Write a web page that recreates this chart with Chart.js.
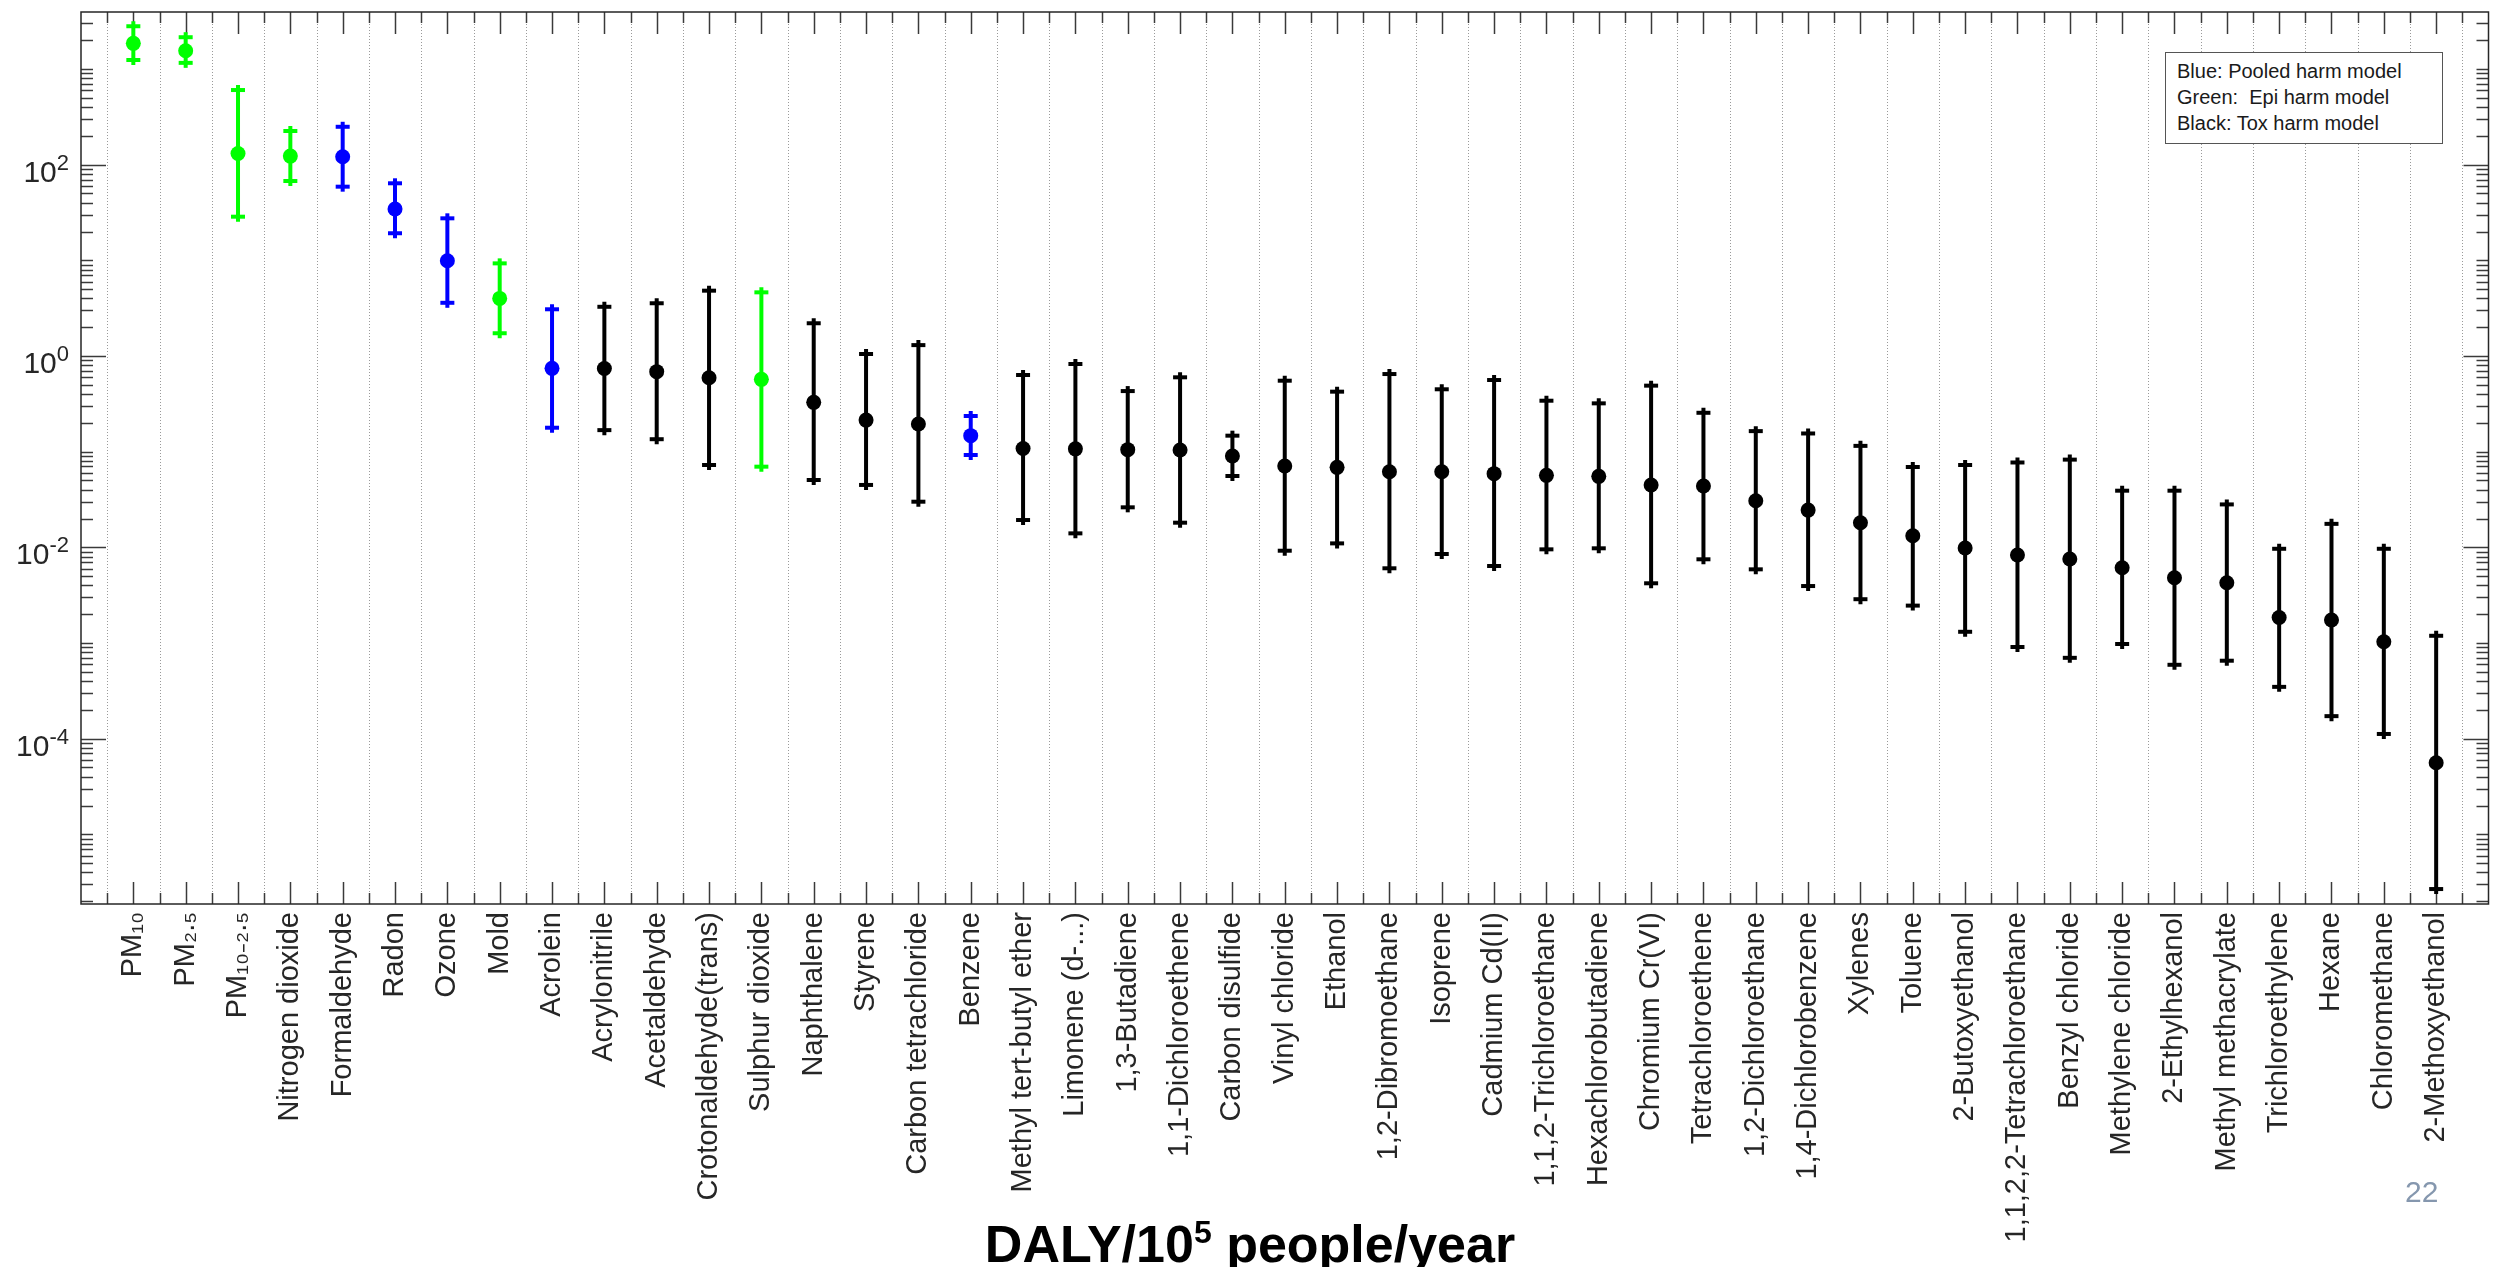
<!DOCTYPE html>
<html>
<head>
<meta charset="utf-8">
<script src="https://cdn.jsdelivr.net/npm/chart.js@4.4.1/dist/chart.umd.min.js"></script>
<style>
  html, body { margin: 0; padding: 0; background: #fff; }
  #wrap { position: relative; width: 2496px; height: 1267px; overflow: hidden; background: #fff; }
  #chart { position: absolute; left: 0; top: 0; }
  #legendBox {
    position: absolute; left: 2165px; top: 52px; width: 278px; height: 92px;
    box-sizing: border-box; border: 1.5px solid #555; background: #fff;
    font-family: 'Liberation Sans', Arial, sans-serif; font-size: 20px; line-height: 26px;
    color: #1a1a1a; padding: 5px 0 0 11px; white-space: pre;
  }
  #xTitle {
    position: absolute; left: 950px; top: 1214px; width: 600px; text-align: center;
    font-family: 'Liberation Sans', Arial, sans-serif; font-weight: bold; font-size: 52px; line-height: 60px;
    color: #000; white-space: nowrap;
  }
  #xTitle .sup { font-size: 32px; position: relative; top: -19px; }
  #pageNum {
    position: absolute; left: 2405px; top: 1177px;
    font-family: 'Liberation Sans', Arial, sans-serif; font-size: 30px; line-height: 30px; color: #8597ae;
  }
</style>
</head>
<body>
<div id="wrap">
  <canvas id="chart" width="2496" height="1267"></canvas>
  <div id="legendBox">Blue: Pooled harm model
Green:  Epi harm model
Black: Tox harm model</div>
  <div id="xTitle">DALY/10<span class="sup">5</span> people/year</div>
  <div id="pageNum">22</div>
</div>
<script>
// ---------------- DATA ----------------
const categories = [
  'PM₁₀', 'PM₂.₅', 'PM₁₀₋₂.₅', 'Nitrogen dioxide', 'Formaldehyde', 'Radon', 'Ozone', 'Mold',
  'Acrolein', 'Acrylonitrile', 'Acetaldehyde', 'Crotonaldehyde(trans)', 'Sulphur dioxide',
  'Naphthalene', 'Styrene', 'Carbon tetrachloride', 'Benzene', 'Methyl tert-butyl ether',
  'Limonene (d-...)', '1,3-Butadiene', '1,1-Dichloroethene', 'Carbon disulfide', 'Vinyl chloride',
  'Ethanol', '1,2-Dibromoethane', 'Isoprene', 'Cadmium Cd(II)', '1,1,2-Trichloroethane',
  'Hexachlorobutadiene', 'Chromium Cr(VI)', 'Tetrachloroethene', '1,2-Dichloroethane',
  '1,4-Dichlorobenzene', 'Xylenes', 'Toluene', '2-Butoxyethanol', '1,1,2,2-Tetrachloroethane',
  'Benzyl chloride', 'Methylene chloride', '2-Ethylhexanol', 'Methyl methacrylate',
  'Trichloroethylene', 'Hexane', 'Chloromethane', '2-Methoxyethanol'
];

const centralValues = [
  1855, 1553, 131, 123, 121, 34.4, 9.9, 4.0,
  0.743, 0.74, 0.686, 0.593, 0.570,
  0.328, 0.214, 0.195, 0.147, 0.108,
  0.107, 0.105, 0.104, 0.0901, 0.0708,
  0.0686, 0.0617, 0.0617, 0.0589, 0.0566,
  0.0552, 0.0449, 0.0438, 0.0307,
  0.0245, 0.0181, 0.0132, 0.00986, 0.00832,
  0.00755, 0.00611, 0.00481, 0.00426,
  0.00185, 0.00174, 0.00103, 0.000056
];

const lowerValues = [
  1242, 1160, 28.6, 67.5, 58.9, 19.2, 3.6, 1.73,
  0.178, 0.168, 0.135, 0.0726, 0.0697,
  0.0506, 0.0449, 0.030, 0.0923, 0.0193,
  0.0140, 0.0262, 0.0181, 0.0557, 0.00922,
  0.0110, 0.00604, 0.00852, 0.00638, 0.00953,
  0.00977, 0.00421, 0.0075, 0.00589,
  0.00394, 0.00287, 0.00246, 0.00131, 0.000908,
  0.000700, 0.000977, 0.000592, 0.000653,
  0.000348, 0.000172, 0.000112, 0.00000268
];

const upperValues = [
  2800, 2150, 603, 225, 249, 63.9, 27.5, 9.3,
  3.08, 3.27, 3.56, 4.82, 4.63,
  2.2, 1.05, 1.30, 0.236, 0.633,
  0.825, 0.43, 0.599, 0.147, 0.552,
  0.424, 0.648, 0.449, 0.561, 0.341,
  0.320, 0.490, 0.255, 0.164,
  0.155, 0.115, 0.0692, 0.0726, 0.0771,
  0.0826, 0.0391, 0.0391, 0.0281,
  0.00966, 0.0176, 0.00966, 0.00119
];

const harmModel = [
  'Epi', 'Epi', 'Epi', 'Epi', 'Pooled', 'Pooled', 'Pooled', 'Epi',
  'Pooled', 'Tox', 'Tox', 'Tox', 'Epi',
  'Tox', 'Tox', 'Tox', 'Pooled', 'Tox',
  'Tox', 'Tox', 'Tox', 'Tox', 'Tox',
  'Tox', 'Tox', 'Tox', 'Tox', 'Tox',
  'Tox', 'Tox', 'Tox', 'Tox',
  'Tox', 'Tox', 'Tox', 'Tox', 'Tox',
  'Tox', 'Tox', 'Tox', 'Tox',
  'Tox', 'Tox', 'Tox', 'Tox'
];

const yTickValues = [1e-4, 1e-2, 1, 1e2];
const yTickBase = '10';
const yTickExponents = ['-4', '-2', '0', '2'];

// ---------------- STYLE ----------------
const FONT = "'Liberation Sans', Arial, sans-serif";
const modelColors = { Pooled: '#0000FF', Epi: '#00FF00', Tox: '#000000' };
const modelOrder = ['Epi', 'Pooled', 'Tox'];
const Y_MIN = 1.87e-6, Y_MAX = 3945;

const datasets = modelOrder.map(model => ({
  label: model,
  data: categories.map((c, i) => i).filter(i => harmModel[i] === model).map(i => ({
    x: i, y: centralValues[i], lo: lowerValues[i], hi: upperValues[i]
  })),
  showLine: false,
  pointRadius: 7.5,
  pointHoverRadius: 7.5,
  pointBorderWidth: 0,
  backgroundColor: modelColors[model],
  borderColor: modelColors[model],
  pointBackgroundColor: modelColors[model]
}));

function line(ctx, x1, y1, x2, y2) {
  ctx.beginPath(); ctx.moveTo(x1, y1); ctx.lineTo(x2, y2); ctx.stroke();
}

const matlabAxes = {
  id: 'matlabAxes',
  beforeDatasetsDraw(chart) {
    const { ctx, chartArea: { left, right, top, bottom }, scales: { x, y } } = chart;
    ctx.save();
    // dotted vertical grid at category midpoints
    ctx.strokeStyle = '#9a9a9a';
    ctx.lineWidth = 1;
    ctx.setLineDash([1, 2]);
    for (let i = 0; i <= categories.length; i++) {
      const px = Math.round(x.getPixelForValue(i - 0.5)) + 0.5;
      if (px <= left + 1 || px >= right - 1) continue;
      line(ctx, px, top, px, bottom);
    }
    ctx.setLineDash([]);
    // ticks
    ctx.strokeStyle = '#3a3a3a';
    ctx.lineWidth = 1.5;
    for (let i = 0; i < categories.length; i++) {
      const px = Math.round(x.getPixelForValue(i)) + 0.5;
      line(ctx, px, bottom, px, bottom - 22);
      line(ctx, px, top, px, top + 22);
    }
    for (let i = 0; i <= categories.length; i++) {
      const px = Math.round(x.getPixelForValue(i - 0.5)) + 0.5;
      line(ctx, px, bottom, px, bottom - 11);
      line(ctx, px, top, px, top + 11);
    }
    const kMin = Math.floor(Math.log10(Y_MIN)), kMax = Math.ceil(Math.log10(Y_MAX));
    for (let k = kMin; k <= kMax; k++) {
      for (let m = 1; m <= 9; m++) {
        const v = m * Math.pow(10, k);
        if (v <= Y_MIN || v >= Y_MAX) continue;
        const py = Math.round(y.getPixelForValue(v)) + 0.5;
        const major = m === 1 && yTickValues.some(t => Math.abs(Math.log10(t) - k) < 1e-9);
        const len = major ? 25 : 12;
        line(ctx, left, py, left + len, py);
        line(ctx, right, py, right - len, py);
      }
    }
    // box
    ctx.strokeStyle = '#262626';
    ctx.lineWidth = 1.5;
    ctx.strokeRect(left, top, right - left, bottom - top);
    // y tick labels: 10 with superscript exponent
    ctx.fillStyle = '#262626';
    ctx.textAlign = 'right';
    ctx.textBaseline = 'alphabetic';
    yTickValues.forEach((v, i) => {
      const py = y.getPixelForValue(v);
      const xr = left - 12;
      ctx.font = `22px ${FONT}`;
      const ew = ctx.measureText(yTickExponents[i]).width;
      ctx.fillText(yTickExponents[i], xr, py + 5);
      ctx.font = `30px ${FONT}`;
      ctx.fillText(yTickBase, xr - ew, py + 17);
    });
    // error bars
    chart.data.datasets.forEach(ds => {
      ctx.strokeStyle = ds.borderColor;
      ctx.lineWidth = 4;
      ctx.lineCap = 'butt';
      ds.data.forEach(pt => {
        const px = x.getPixelForValue(pt.x);
        const pLo = y.getPixelForValue(pt.lo);
        const pHi = y.getPixelForValue(pt.hi);
        line(ctx, px, pHi - 5, px, pLo + 5);
        line(ctx, px - 7, pHi, px + 7, pHi);
        line(ctx, px - 7, pLo, px + 7, pLo);
      });
    });
    ctx.restore();
  }
};

new Chart(document.getElementById('chart'), {
  type: 'scatter',
  data: { datasets },
  plugins: [matlabAxes],
  options: {
    responsive: false,
    animation: false,
    devicePixelRatio: 1,
    layout: { padding: { top: 12, left: 0, right: 0, bottom: 0 } },
    plugins: { legend: { display: false }, tooltip: { enabled: false } },
    scales: {
      x: {
        type: 'linear', position: 'bottom', min: -1, max: categories.length,
        afterBuildTicks: s => { s.ticks = categories.map((c, i) => ({ value: i })); },
        afterFit: s => { s.height = 363; },
        grid: { display: false, drawTicks: false },
        border: { display: false },
        ticks: {
          autoSkip: false, minRotation: 90, maxRotation: 90, padding: 8,
          color: '#262626', font: { family: FONT, size: 29 },
          callback: v => categories[Math.round(v)]
        }
      },
      y: {
        type: 'logarithmic', position: 'left', min: Y_MIN, max: Y_MAX,
        afterBuildTicks: s => { s.ticks = yTickValues.map(v => ({ value: v })); },
        afterFit: s => { s.width = 81; },
        grid: { display: false, drawTicks: false },
        border: { display: false },
        ticks: { display: false }
      }
    }
  }
});
</script>
</body>
</html>
